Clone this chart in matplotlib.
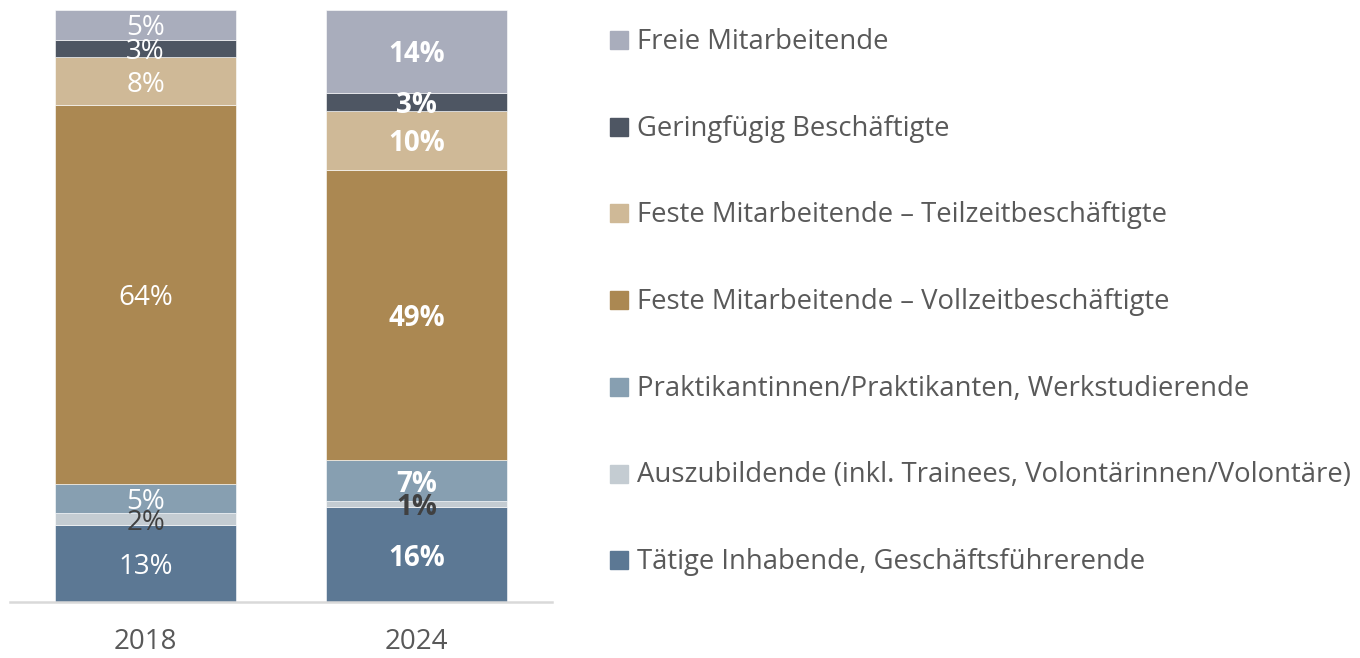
import matplotlib.pyplot as plt
from matplotlib.patches import Rectangle

plt.rcParams['font.family'] = ['Open Sans', 'DejaVu Sans']

years = ["2018", "2024"]
categories = [
    "Tätige Inhabende, Geschäftsführerende",
    "Auszubildende (inkl. Trainees, Volontärinnen/Volontäre)",
    "Praktikantinnen/Praktikanten, Werkstudierende",
    "Feste Mitarbeitende – Vollzeitbeschäftigte",
    "Feste Mitarbeitende – Teilzeitbeschäftigte",
    "Geringfügig Beschäftigte",
    "Freie Mitarbeitende",
]
values_2018 = [13, 2, 5, 64, 8, 3, 5]
values_2024 = [16, 1, 7, 49, 10, 3, 14]
colors = ["#5C7894", "#C4CCD2", "#879FB1", "#AB8852", "#CFB997", "#4E5663", "#A9ADBC"]
label_colors = ["white", "#404040", "white", "white", "white", "white", "white"]

fig = plt.figure(figsize=(13.6, 6.58), dpi=100)
ax = fig.add_axes([10 / 1360, 1 - 602 / 658, 542 / 1360, 592 / 658])

series = [values_2018, values_2024]
weights = ["normal", "bold"]
for xi, vals in enumerate(series):
    bottom = 0
    for ci, v in enumerate(vals):
        ax.bar(xi, v, bottom=bottom, width=0.665, color=colors[ci],
               edgecolor="white", linewidth=0.4)
        ax.text(xi, bottom + v / 2 - 0.6, f"{v}%", ha="center", va="center",
                fontsize=20, color=label_colors[ci], fontweight=weights[xi])
        bottom += v

ax.set_xlim(-0.5, 1.5)
ax.set_ylim(0, 100)
ax.set_yticks([])
ax.set_xticks(range(len(years)))
ax.set_xticklabels(years, fontsize=20, color="#595959")
ax.tick_params(axis="x", length=0, pad=19)
for side in ["left", "right", "top"]:
    ax.spines[side].set_visible(False)
ax.spines["bottom"].set_color("#D9D9D9")
ax.spines["bottom"].set_linewidth(1.8)

# legend, top entry first
for i, ci in enumerate(reversed(range(len(categories)))):
    yc = 40 + i * 86.7
    fig.add_artist(Rectangle((610 / 1360, 1 - (yc + 9) / 658), 18 / 1360, 18 / 658,
                             transform=fig.transFigure, color=colors[ci]))
    fig.text(637 / 1360, 1 - (yc + 2) / 658, categories[ci], ha="left", va="center",
             fontsize=19.8, color="#595959")

fig.savefig("out.png", dpi=100)
